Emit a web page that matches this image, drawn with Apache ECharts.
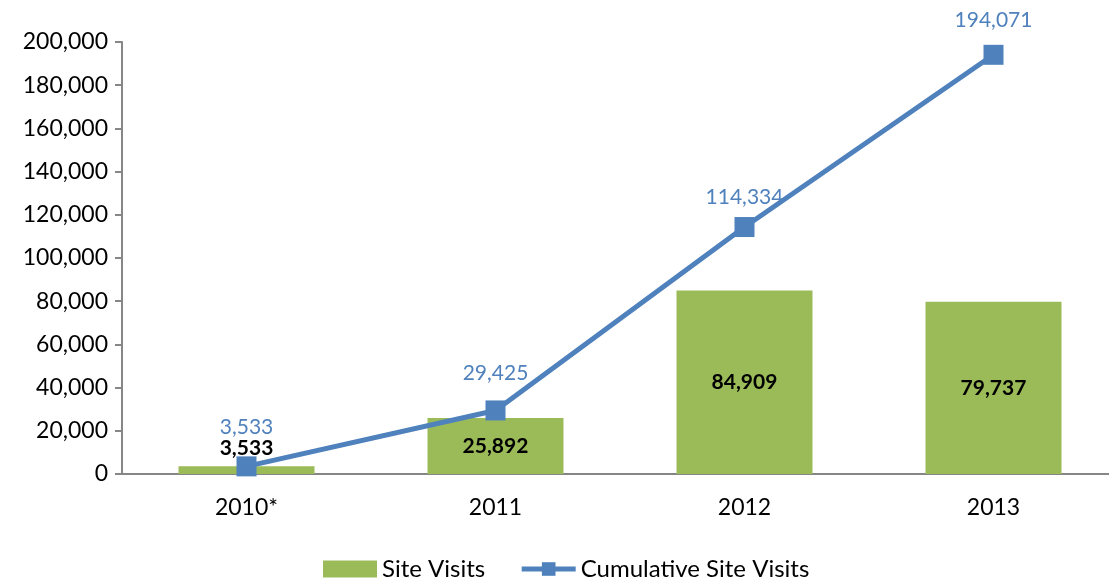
<!DOCTYPE html>
<html>
<head>
<meta charset="utf-8">
<script src="https://cdn.jsdelivr.net/npm/echarts@6/dist/echarts.min.js"></script>
<style>
  html, body { margin: 0; padding: 0; background: #fff; overflow: hidden; }
  #main { width: 1130px; height: 578px; }
</style>
</head>
<body>
<div id="main"></div>
<script>
// data
const years = ['2010*', '2011', '2012', '2013'];
const siteVisits = [3533, 25892, 84909, 79737];
const cumulativeVisits = [3533, 29425, 114334, 194071];

const fmt = v => v.toLocaleString('en-US');
const font = 'Lato, "Open Sans", sans-serif';
// label gaps above the line markers, as placed in the original
const lineLabelGap = [19, 17, 9, 14];

let chart = echarts.init(document.getElementById('main'));

let option = {
  animation: false,
  grid: { left: 122, top: 42, width: 996, height: 432 },
  legend: {
    left: 318,
    top: 552,
    itemGap: 34,
    itemWidth: 54,
    itemHeight: 17,
    textStyle: { fontFamily: font, fontSize: 24, color: '#000' },
    data: [
      { name: 'Site Visits', icon: 'rect' },
      { name: 'Cumulative Site Visits', lineStyle: { width: 5, color: '#4F81BD' } }
    ]
  },
  xAxis: {
    type: 'category',
    data: years,
    axisLine: { lineStyle: { color: '#868686', width: 2 } },
    axisTick: { length: 8, lineStyle: { color: '#868686', width: 2 } },
    axisLabel: { fontFamily: font, fontSize: 23, color: '#000', margin: 22 }
  },
  yAxis: {
    type: 'value',
    min: 0,
    max: 200000,
    interval: 20000,
    splitLine: { show: false },
    axisLine: { show: true, lineStyle: { color: '#868686', width: 2 } },
    axisTick: { show: true, length: 7, lineStyle: { color: '#868686', width: 2 } },
    axisLabel: { fontFamily: font, fontSize: 23, color: '#000', margin: 14, formatter: fmt }
  },
  series: [
    {
      name: 'Site Visits',
      type: 'bar',
      barWidth: 136,
      itemStyle: { color: '#9BBB59' },
      data: siteVisits.map((v, i) => ({
        value: v,
        label: i === 0 ? { position: 'top', distance: 8 } : undefined
      })),
      label: {
        show: true,
        position: 'inside',
        fontFamily: font,
        fontSize: 21,
        fontWeight: 'bold',
        color: '#000',
        formatter: p => fmt(p.value)
      },
      z: 1
    },
    {
      name: 'Cumulative Site Visits',
      type: 'line',
      data: cumulativeVisits.map((v, i) => ({
        value: v,
        label: { distance: lineLabelGap[i] }
      })),
      symbol: 'rect',
      symbolSize: 20,
      lineStyle: { color: '#4F81BD', width: 5 },
      itemStyle: { color: '#4F81BD' },
      label: {
        show: true,
        position: 'top',
        fontFamily: font,
        fontSize: 21,
        color: '#4F81BD',
        formatter: p => fmt(p.value)
      },
      z: 3
    }
  ]
};

chart.setOption(option);
</script>
</body>
</html>
